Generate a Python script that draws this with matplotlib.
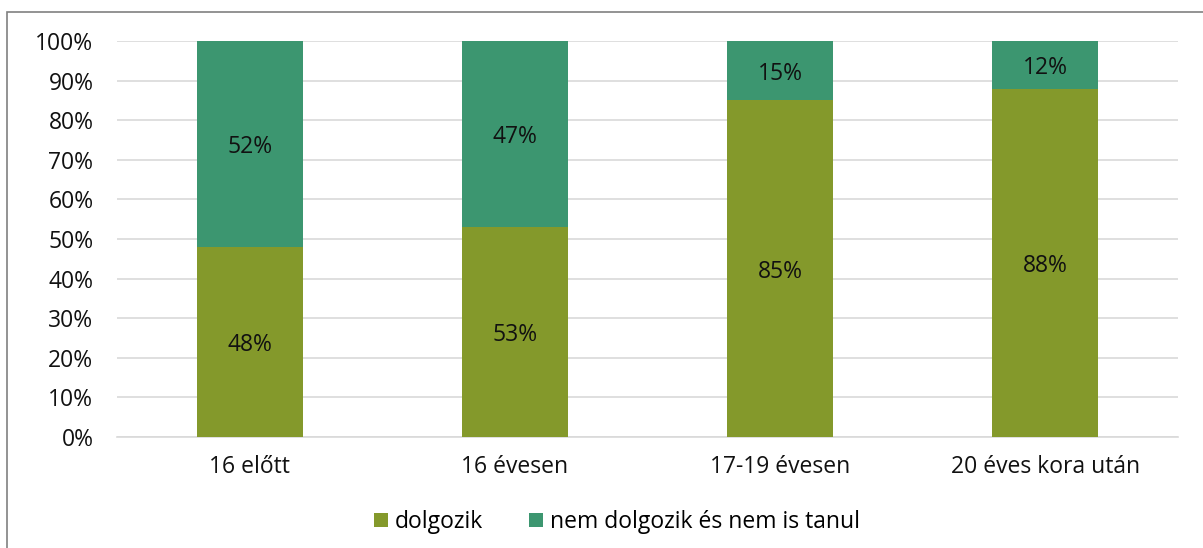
import matplotlib.pyplot as plt
from matplotlib.patches import Rectangle
from matplotlib.ticker import PercentFormatter

categories = ["16 előtt", "16 évesen", "17-19 évesen", "20 éves kora után"]
dolgozik = [48, 53, 85, 88]
nem_dolgozik = [52, 47, 15, 12]
series_names = ["dolgozik", "nem dolgozik és nem is tanul"]

c_olive = "#84992B"
c_green = "#3C9670"

plt.rcParams['font.family'] = ['Open Sans', 'DejaVu Sans']
fs = 16.5

fig = plt.figure(figsize=(12.03, 5.48), dpi=100)
ax = fig.add_axes([117 / 1203, 1 - 437 / 548, 1061 / 1203, 396 / 548])

x = range(len(categories))
b1 = ax.bar(x, dolgozik, width=0.4, color=c_olive, label=series_names[0], zorder=3)
b2 = ax.bar(x, nem_dolgozik, width=0.4, bottom=dolgozik, color=c_green,
            label=series_names[1], zorder=3)

for rect, v in zip(b1, dolgozik):
    ax.text(rect.get_x() + rect.get_width() / 2, rect.get_y() + v / 2, f"{v}%",
            ha='center', va='center_baseline', fontsize=fs, color='#111111', zorder=4)
for rect, v, b in zip(b2, nem_dolgozik, dolgozik):
    ax.text(rect.get_x() + rect.get_width() / 2, b + v / 2, f"{v}%",
            ha='center', va='center_baseline', fontsize=fs, color='#111111', zorder=4)

ax.set_xlim(-0.5, len(categories) - 0.5)
ax.set_ylim(0, 100)
ax.set_yticks(range(0, 101, 10))
ax.yaxis.set_major_formatter(PercentFormatter(decimals=0))
ax.set_xticks(list(x))
ax.set_xticklabels(categories)
ax.tick_params(axis='both', length=0, labelsize=fs, colors='#111111')
ax.tick_params(axis='y', pad=17)
ax.tick_params(axis='x', pad=13)
ax.grid(axis='y', color='#d9d9d9', linewidth=1.2, zorder=0)
for s in ['top', 'right', 'left']:
    ax.spines[s].set_visible(False)
ax.spines['bottom'].set_color('#d9d9d9')
ax.spines['bottom'].set_linewidth(1.2)

fig.legend(handles=[b1, b2], labels=series_names, loc='center',
           bbox_to_anchor=(617 / 1203, 1 - 522 / 548), ncol=2, frameon=False,
           fontsize=fs, handlelength=0.6, handleheight=0.6, handletextpad=0.3,
           columnspacing=2.0)

fig.patches.append(Rectangle((7 / 1203, -0.1), 1.2, 1 - 12 / 548 + 0.1,
                             transform=fig.transFigure, fill=False,
                             edgecolor='#808080', linewidth=1.2))

fig.savefig("out.png", dpi=100)
